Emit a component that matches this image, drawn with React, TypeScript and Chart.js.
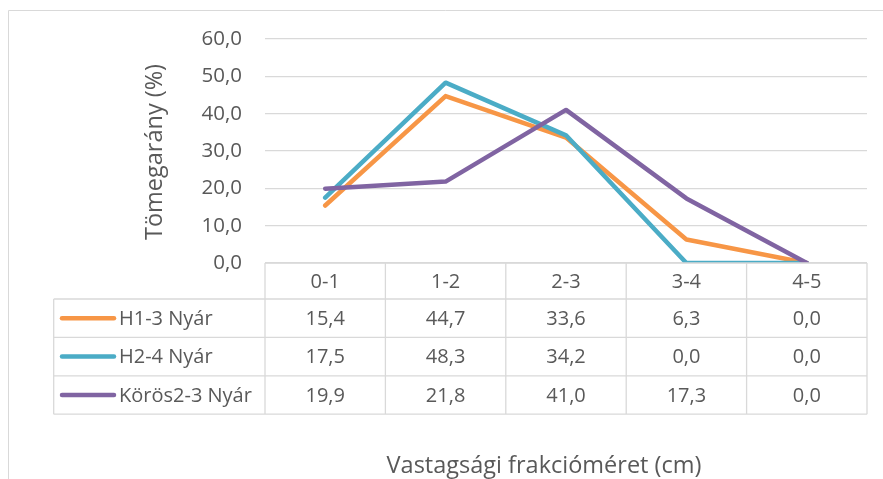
import React, { useEffect, useRef } from "react";
import { Chart, registerables } from "chart.js";
Chart.register(...registerables);

const categories = ["0-1", "1-2", "2-3", "3-4", "4-5"];
const seriesNames = ["H1-3 Nyár", "H2-4 Nyár", "Körös2-3 Nyár"];
const h13Values = [15.4, 44.7, 33.6, 6.3, 0.0];
const h24Values = [17.5, 48.3, 34.2, 0.0, 0.0];
const korosValues = [19.9, 21.8, 41.0, 17.3, 0.0];
const seriesColors = ["#F79646", "#4BACC6", "#8064A2"];
const yMin = 0;
const yMax = 60;
const yStep = 10;
const yTitle = "Tömegarány (%)";
const xTitle = "Vastagsági frakcióméret (cm)";

const FONT = '"Open Sans", "Noto Sans", sans-serif';
const TEXT = "#595959";
const GRID = "#D9D9D9";

const fmt = (v: number) => v.toFixed(1).replace(".", ",");

const allSeries = [h13Values, h24Values, korosValues];

const tablePlugin = {
  id: "dataTable",
  afterDraw(chart: any) {
    const ctx = chart.ctx as CanvasRenderingContext2D;
    const area = chart.chartArea;
    const xs = chart.scales.x;
    const half = (xs.getPixelForValue(1) - xs.getPixelForValue(0)) / 2;
    const edges: number[] = [];
    for (let i = 0; i < categories.length; i++) edges.push(xs.getPixelForValue(i) - half);
    edges.push(xs.getPixelForValue(categories.length - 1) + half);
    const top = area.bottom;
    const headerH = 36;
    const rowH = 38.4;
    const legendLeft = 53.7;
    const right = edges[edges.length - 1];
    const bottom = top + headerH + rowH * seriesNames.length;

    ctx.save();
    // outer chart border (left & top)
    ctx.strokeStyle = GRID;
    ctx.lineWidth = 1;
    ctx.beginPath();
    ctx.moveTo(8.5, 479);
    ctx.lineTo(8.5, 10.5);
    ctx.lineTo(883, 10.5);
    ctx.stroke();

    // table grid
    ctx.lineWidth = 1.3;
    ctx.beginPath();
    ctx.moveTo(edges[0], top);
    ctx.lineTo(right, top);
    for (let r = 0; r <= seriesNames.length; r++) {
      const y = top + headerH + rowH * r;
      ctx.moveTo(legendLeft, y);
      ctx.lineTo(right, y);
    }
    for (const e of edges) {
      ctx.moveTo(e, top);
      ctx.lineTo(e, bottom);
    }
    ctx.moveTo(legendLeft, top + headerH);
    ctx.lineTo(legendLeft, bottom);
    ctx.stroke();

    // header
    ctx.fillStyle = TEXT;
    ctx.font = `20px ${FONT}`;
    ctx.textAlign = "center";
    ctx.textBaseline = "middle";
    categories.forEach((c, i) => {
      ctx.fillText(c, xs.getPixelForValue(i), top + headerH / 2 + 1);
    });

    // rows
    allSeries.forEach((vals, r) => {
      const cy = top + headerH + rowH * r + rowH / 2 + 1;
      ctx.textAlign = "center";
      vals.forEach((v, i) => {
        ctx.fillText(fmt(v), xs.getPixelForValue(i), cy);
      });
      // legend key
      ctx.strokeStyle = seriesColors[r];
      ctx.lineWidth = 4.5;
      ctx.lineCap = "round";
      ctx.beginPath();
      ctx.moveTo(62, cy - 1);
      ctx.lineTo(114, cy - 1);
      ctx.stroke();
      ctx.textAlign = "left";
      ctx.fillText(seriesNames[r], 119, cy);
    });

    // axis titles
    ctx.font = `23.5px ${FONT}`;
    ctx.textAlign = "center";
    ctx.textBaseline = "middle";
    ctx.save();
    ctx.translate(155, 152);
    ctx.rotate(-Math.PI / 2);
    ctx.fillText(yTitle, 0, 0);
    ctx.restore();
    ctx.textBaseline = "alphabetic";
    ctx.fillText(xTitle, 544, 473);
    ctx.restore();
  },
};

export default function App() {
  const ref = useRef<HTMLCanvasElement | null>(null);
  useEffect(() => {
    if (!ref.current) return;
    const chart = new Chart(ref.current, {
      type: "line",
      data: {
        labels: categories,
        datasets: allSeries.map((vals, i) => ({
          label: seriesNames[i],
          data: vals,
          borderColor: seriesColors[i],
          backgroundColor: seriesColors[i],
          borderWidth: 4.5,
          pointRadius: 0,
          pointHoverRadius: 0,
          fill: false,
          tension: 0,
          borderJoinStyle: "round" as const,
          borderCapStyle: "round" as const,
          order: allSeries.length - i,
        })),
      },
      options: {
        responsive: false,
        animation: false,
        events: [],
        layout: { padding: { top: 39, right: 16, bottom: 0, left: 0 } },
        plugins: {
          legend: { display: false },
          tooltip: { enabled: false },
          title: { display: false },
        },
        scales: {
          x: {
            type: "category",
            offset: true,
            grid: { display: false },
            border: { display: false },
            ticks: { display: false },
            afterFit: (s: any) => {
              s.height = 216;
            },
          },
          y: {
            min: yMin,
            max: yMax,
            ticks: {
              stepSize: yStep,
              callback: (v: any) => fmt(Number(v)),
              color: TEXT,
              font: { family: FONT, size: 20.5 },
              padding: 23,
            },
            grid: { color: GRID, lineWidth: 1.3, drawTicks: false },
            border: { display: false },
            afterFit: (s: any) => {
              s.width = 265;
            },
          },
        },
      },
      plugins: [tablePlugin],
    });
    return () => chart.destroy();
  }, []);
  return (
    <div style={{ position: "fixed", left: 0, top: 0, width: 883, height: 479, background: "#fff" }}>
      <canvas ref={ref} width={883} height={479} style={{ display: "block" }} />
    </div>
  );
}
